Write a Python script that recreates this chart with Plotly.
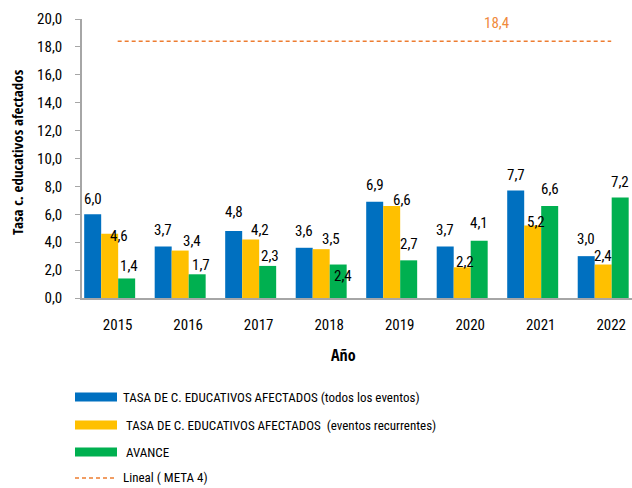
import plotly.graph_objects as go

# ---- data -------------------------------------------------------------
years = ["2015", "2016", "2017", "2018", "2019", "2020", "2021", "2022"]
todos_eventos = [6.0, 3.7, 4.8, 3.6, 6.9, 3.7, 7.7, 3.0]
eventos_recurrentes = [4.6, 3.4, 4.2, 3.5, 6.6, 2.2, 5.2, 2.4]
avance = [1.4, 1.7, 2.3, 2.4, 2.7, 4.1, 6.6, 7.2]
meta_4 = 18.4

names = [
    "TASA DE C. EDUCATIVOS AFECTADOS (todos los eventos)",
    "\u00a0TASA DE C. EDUCATIVOS AFECTADOS \u00a0(eventos recurrentes)",
    "\u00a0AVANCE",
    "Lineal ( META 4)",
]
y_ticks = [0, 2, 4, 6, 8, 10, 12, 14, 16, 18, 20]

# ---- styling ----------------------------------------------------------
FONT = "Roboto Condensed, DejaVu Sans Condensed, sans-serif"
FONT_BOLD = "Open Sans Condensed, Roboto Condensed, sans-serif"
BLUE, YELLOW, GREEN, ORANGE = "#0070C0", "#FFC000", "#00B050", "#ED7D31"
AXIS = "#A6A6A6"

W, H = 632, 488
ML, MR, MT, MB = 82, 0, 19, 190
PW, PH = W - ML - MR, H - MT - MB

BAR_W = 0.241          # width of one bar, in category units
GROUP_SHIFT = -0.1135  # bar groups sit slightly left of the category centre

# per-label nudges (pixels) for the value labels: (dx, dy above bar top)
label_nudge = {
    0: ([0] * 8, [15, 16, 19, 17, 17, 16, 16, 17]),
    1: ([9, 12, 9, 10, 10, 3, 3, 0], [-2, 10, 9, 10, 6, 5, 3, 9]),
    2: ([2, 4, 2, 5, 0, 0, 0, 0], [12, 9, 10, -11, 16, 18, 17, 16]),
}


def px_x(p):
    return (p - ML) / PW


def px_y(p):
    return (H - MB - p) / PH


def fmt(v):
    return f"{v:.1f}".replace(".", ",")


fig = go.Figure()

series = [todos_eventos, eventos_recurrentes, avance]
colors = [BLUE, YELLOW, GREEN]
annotations = []
for k, (vals, col) in enumerate(zip(series, colors)):
    off = GROUP_SHIFT - 1.5 * BAR_W + k * BAR_W
    fig.add_trace(go.Bar(
        x=years, y=vals, name=names[k], marker=dict(color=col, line=dict(width=0)),
        offset=off, width=BAR_W, showlegend=False,
    ))
    dxs, dys = label_nudge[k]
    for i, v in enumerate(vals):
        annotations.append(dict(
            x=i + off + BAR_W / 2, y=v, xref="x", yref="y", text=fmt(v),
            showarrow=False, xanchor="center", yanchor="middle",
            xshift=dxs[i], yshift=dys[i],
            font=dict(family=FONT, size=15, color="#000000"),
        ))

fig.add_trace(go.Scatter(
    x=years, y=[meta_4] * len(years), mode="lines", name=names[3],
    line=dict(color=ORANGE, width=1.5, dash="4px,3px"), showlegend=False,
))
annotations.append(dict(
    x=5.38, y=meta_4, xref="x", yref="y", text=fmt(meta_4), showarrow=False,
    xanchor="center", yanchor="middle", yshift=18,
    font=dict(family=FONT, size=15, color="#F08A3C"),
))

# axis titles
annotations.append(dict(
    x=px_x(17), y=px_y(152), xref="paper", yref="paper",
    text="<b>Tasa c. educativos afectados</b>", textangle=-90, showarrow=False,
    xanchor="center", yanchor="middle",
    font=dict(family=FONT_BOLD, size=15, color="#000000"),
))
annotations.append(dict(
    x=px_x(343), y=px_y(355), xref="paper", yref="paper",
    text="<b>Año</b>", showarrow=False, xanchor="center", yanchor="middle",
    font=dict(family=FONT_BOLD, size=16, color="#000000"),
))

# legend block
shapes = []
legend_rows = [397, 425, 452, 478]
for k, yy in enumerate(legend_rows):
    if k < 3:
        shapes.append(dict(
            type="rect", xref="paper", yref="paper",
            x0=px_x(75), x1=px_x(117), y0=px_y(yy - 4.5), y1=px_y(yy + 4.5),
            fillcolor=colors[k], line=dict(width=0),
        ))
    else:
        shapes.append(dict(
            type="line", xref="paper", yref="paper",
            x0=px_x(75), x1=px_x(117), y0=px_y(yy), y1=px_y(yy),
            line=dict(color=ORANGE, width=1.5, dash="4px,3px"),
        ))
    annotations.append(dict(
        x=px_x(121), y=px_y(yy), xref="paper", yref="paper", text=names[k],
        showarrow=False, xanchor="left", yanchor="middle",
        font=dict(family=FONT, size=13, color="#000000"),
    ))

fig.update_layout(
    width=W, height=H, autosize=False,
    margin=dict(l=ML, r=MR, t=MT, b=MB, pad=0),
    paper_bgcolor="#FFFFFF", plot_bgcolor="#FFFFFF",
    barmode="overlay", separators=",.",
    font=dict(family=FONT, size=15, color="#000000"),
    annotations=annotations, shapes=shapes, showlegend=False,
)
fig.update_xaxes(
    type="category", range=[-0.506, 7.295],
    showline=True, linecolor=AXIS, linewidth=1.5,
    ticks="", showgrid=False, zeroline=False,
    tickfont=dict(family=FONT, size=15), ticklabelstandoff=12,
)
fig.update_yaxes(
    range=[0, 20], tickvals=y_ticks, tickformat=".1f",
    showline=True, linecolor=AXIS, linewidth=1.5,
    ticks="outside", ticklen=5, tickcolor=AXIS, tickwidth=1,
    showgrid=False, zeroline=False,
    tickfont=dict(family=FONT, size=15), ticklabelstandoff=10,
)

fig.write_html("out.html")
